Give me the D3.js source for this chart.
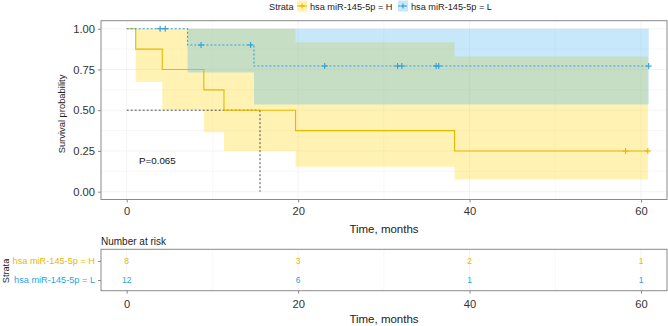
<!DOCTYPE html>
<html><head><meta charset="utf-8">
<script src="https://cdn.jsdelivr.net/npm/d3@7"></script>
<style>body{margin:0;background:#fff}svg{display:block}svg text{font-family:"Liberation Sans",Arial,Helvetica,sans-serif}</style>
</head><body><svg id="c" width="668" height="326"></svg>
<script>
// ---- data ----
const groups = ["hsa miR-145-5p = H", "hsa miR-145-5p = L"];
const colors = ["#E7B800", "#2E9FDF"];
const fills  = ["#FFD400", "#41B2EE"];
const hTime  = [0, 1.05, 4.15, 9.0, 11.35, 19.7, 38.25, 60.8];
const hSurv  = [1, 0.875, 0.75, 0.625, 0.5, 0.375, 0.25, 0.25];
const hLower = [1, 0.673, 0.503, 0.365, 0.25, 0.153, 0.075, 0.075];
const hUpper = [1, 1, 1, 1, 1, 0.917, 0.83, 0.83];
const hCens  = [58.2, 60.8];
const lTime  = [0, 7.1, 14.85, 60.9];
const lSurv  = [1, 0.9, 0.771, 0.771];
const lLower = [1, 0.732, 0.535, 0.535];
const lUpper = [1, 1, 1, 1];
const lCens  = [3.9, 4.5, 8.67, 14.45, 23.1, 31.6, 32.1, 36.1, 36.4, 60.9];
const medianTime = 15.55;
const riskTimes = [0, 20, 40, 60];
const riskH = [8, 3, 2, 1];
const riskL = [12, 6, 1, 1];
const xTicks = [0, 20, 40, 60];
const yTicks = [0, 0.25, 0.5, 0.75, 1];
const pText = "P=0.065";

const FF = "Liberation Sans, Arial, Helvetica, sans-serif";
const svg = d3.select("#c");
const P = {l:101, r:667, t:20.7, b:199.5};
const R = {t:249.3, b:290.7};
const x = d3.scaleLinear().domain([0,60]).range([126.7, 641]);
const y = d3.scaleLinear().domain([0,1]).range([191.7, 28.7]);
const gridC = "#F0F0F0", axC = "#8a8a8a", txt = "#333";

// grids
const gg = svg.append("g");
d3.range(0, 61, 10).forEach(t => gg.append("line").attr("x1",x(t)).attr("x2",x(t)).attr("y1",P.t).attr("y2",P.b).attr("stroke",gridC).attr("stroke-width", t%20?0.5:0.8));
d3.range(0, 1.01, 0.125).forEach(v => gg.append("line").attr("x1",P.l).attr("x2",P.r).attr("y1",y(v)).attr("y2",y(v)).attr("stroke",gridC).attr("stroke-width", (v*8)%2?0.5:0.8));

function rows(t,s,lo,up){ return t.map((d,i)=>({t:d,s:s[i],lo:lo[i],up:up[i]})); }
const H = rows(hTime,hSurv,hLower,hUpper), L = rows(lTime,lSurv,lLower,lUpper);
const area = d3.area().curve(d3.curveStepAfter).x(d=>x(d.t)).y0(d=>y(d.lo)).y1(d=>y(d.up));
const line = d3.line().curve(d3.curveStepAfter).x(d=>x(d.t)).y(d=>y(d.s));

svg.append("path").datum(H).attr("d",area).attr("fill",fills[0]).attr("fill-opacity",0.3);
svg.append("path").datum(L).attr("d",area).attr("fill",fills[1]).attr("fill-opacity",0.3);

// median lines
svg.append("line").attr("x1",x(0)).attr("x2",x(medianTime)).attr("y1",y(0.5)).attr("y2",y(0.5)).attr("stroke","#222").attr("stroke-width",0.8).attr("stroke-dasharray","2,2");
svg.append("line").attr("x1",x(medianTime)).attr("x2",x(medianTime)).attr("y1",y(0.5)).attr("y2",y(0)).attr("stroke","#222").attr("stroke-width",0.8).attr("stroke-dasharray","2,2");

svg.append("path").datum(H).attr("d",line).attr("fill","none").attr("stroke",colors[0]).attr("stroke-width",1.1);
svg.append("path").datum(L).attr("d",line).attr("fill","none").attr("stroke",colors[1]).attr("stroke-width",1.1).attr("stroke-dasharray","2,2");

function cross(g, cx, cy, c, s){
  s = s || 3;
  g.append("line").attr("x1",cx-s).attr("x2",cx+s).attr("y1",cy).attr("y2",cy).attr("stroke",c).attr("stroke-width",1.1);
  g.append("line").attr("x1",cx).attr("x2",cx).attr("y1",cy-s).attr("y2",cy+s).attr("stroke",c).attr("stroke-width",1.1);
}
function survAt(rs, t){ let v=rs[0].s; rs.forEach(r=>{ if(r.t<=t) v=r.s; }); return v; }
const cg = svg.append("g");
hCens.forEach(t=>cross(cg, x(t), y(survAt(H,t)), colors[0]));
lCens.forEach(t=>cross(cg, x(t), y(survAt(L,t)), colors[1]));

// panel border
svg.append("rect").attr("x",P.l).attr("y",P.t).attr("width",P.r-P.l).attr("height",P.b-P.t).attr("fill","none").attr("stroke",axC).attr("stroke-width",1);

// axes
const xa = svg.append("g").attr("transform",`translate(0,${P.b})`).call(d3.axisBottom(x).tickValues(xTicks).tickSize(3).tickPadding(5));
const ya = svg.append("g").attr("transform",`translate(${P.l},0)`).call(d3.axisLeft(y).tickValues(yTicks).tickFormat(d3.format(".2f")).tickSize(3).tickPadding(3));
[xa,ya].forEach(a=>{ a.attr("font-family",FF); a.select(".domain").remove(); a.selectAll("line").attr("stroke",axC); a.selectAll("text").attr("fill",txt).attr("font-size",11.2); });

svg.append("text").attr("x",384).attr("y",233).attr("text-anchor","middle").attr("font-size",11.5).attr("fill","#222").text("Time, months");
svg.append("text").attr("transform",`translate(65,114) rotate(-90)`).attr("text-anchor","middle").attr("font-size",9.4).attr("fill","#222").text("Survival probability");
svg.append("text").attr("x",139).attr("y",164).attr("font-size",9.8).attr("fill","#111").text(pText);

// legend
const lg = svg.append("g");
lg.append("text").attr("x",269).attr("y",9.5).attr("font-size",9.2).attr("fill","#222").text("Strata");
const keyX = [297, 398];
groups.forEach((g,i)=>{
  const lx = keyX[i];
  lg.append("rect").attr("x",lx).attr("y",0.5).attr("width",10).attr("height",11).attr("fill",fills[i]).attr("fill-opacity",0.3);
  lg.append("line").attr("x1",lx).attr("x2",lx+10).attr("y1",6).attr("y2",6).attr("stroke",colors[i]).attr("stroke-width",1).attr("stroke-dasharray", i? "2,1.5":null);
  cross(lg, lx+5, 6, colors[i], 2.5);
  lg.append("text").attr("x",lx+13).attr("y",9.5).attr("font-size",9.2).attr("fill","#222").text(g);
});

// risk table
svg.append("text").attr("x",P.l).attr("y",245).attr("font-size",10).attr("fill","#222").text("Number at risk");
d3.range(0, 61, 10).forEach(t => svg.append("line").attr("x1",x(t)).attr("x2",x(t)).attr("y1",R.t).attr("y2",R.b).attr("stroke",gridC).attr("stroke-width", t%20?0.5:0.8));
svg.append("rect").attr("x",P.l).attr("y",R.t).attr("width",P.r-P.l).attr("height",R.b-R.t).attr("fill","none").attr("stroke",axC);
const ry = d3.scalePoint().domain(groups).range([261, 280]);
const rxa = svg.append("g").attr("transform",`translate(0,${R.b})`).call(d3.axisBottom(x).tickValues(xTicks).tickSize(3).tickPadding(6));
rxa.attr("font-family",FF); rxa.select(".domain").remove(); rxa.selectAll("line").attr("stroke",axC); rxa.selectAll("text").attr("fill",txt).attr("font-size",11.2);
const rya = svg.append("g").attr("transform",`translate(${P.l},0)`).call(d3.axisLeft(ry).tickSize(3).tickPadding(3));
rya.attr("font-family",FF); rya.select(".domain").remove(); rya.selectAll("line").attr("stroke",axC);
rya.selectAll("text").attr("font-size",9.2).attr("fill",(d,i)=>colors[i]);
[riskH, riskL].forEach((arr,gi)=>{
  svg.append("g").selectAll("text").data(arr).join("text")
    .attr("x",(d,i)=>x(riskTimes[i])).attr("y",ry(groups[gi])).attr("dy","0.35em")
    .attr("text-anchor","middle").attr("font-size",8.5).attr("fill",colors[gi]).text(d=>d);
});
svg.append("text").attr("transform",`translate(9,271) rotate(-90)`).attr("text-anchor","middle").attr("font-size",9.2).attr("fill","#222").text("Strata");
svg.append("text").attr("x",384).attr("y",323).attr("text-anchor","middle").attr("font-size",11.5).attr("fill","#222").text("Time, months");
</script></body></html>
